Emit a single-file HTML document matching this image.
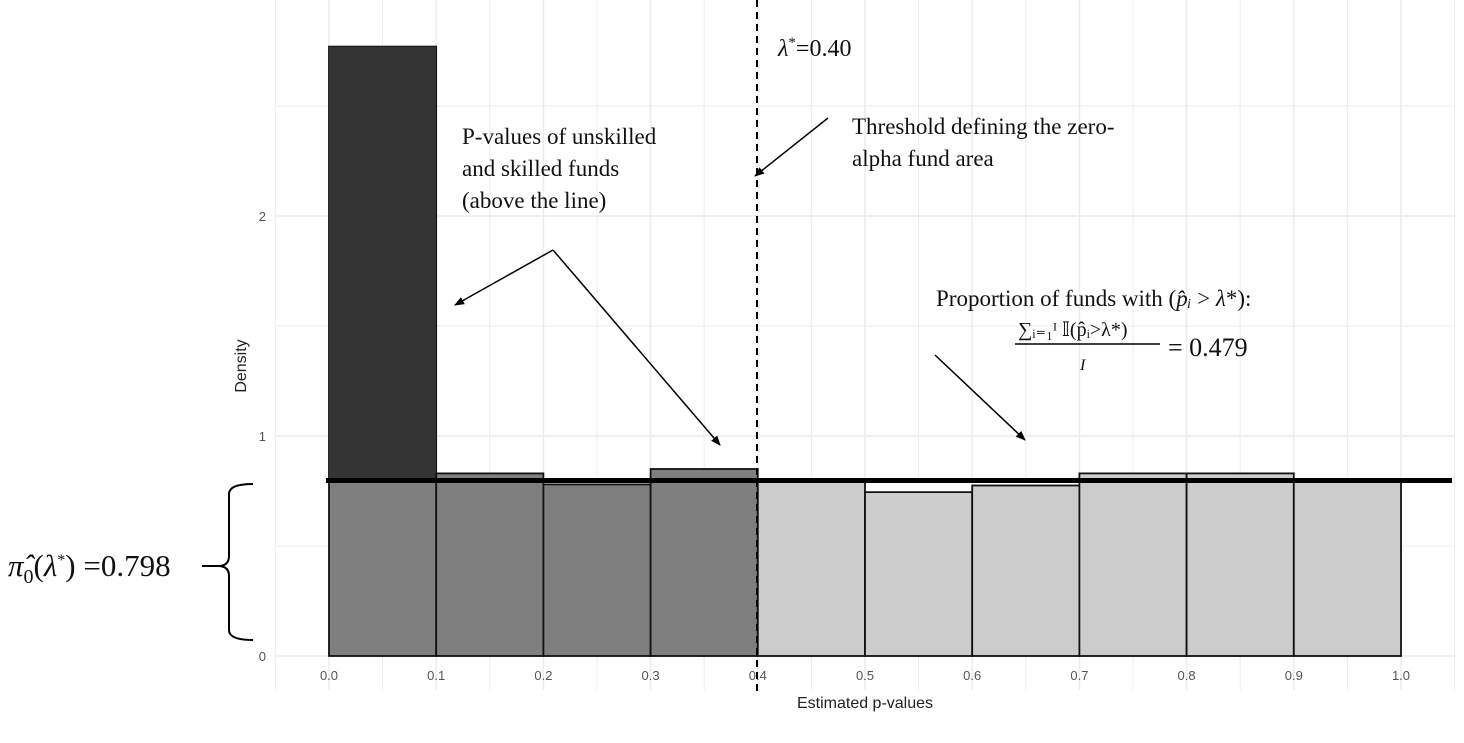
<!DOCTYPE html>
<html><head><meta charset="utf-8"><style>
body{margin:0;background:#fff;}
svg text{font-family:"Liberation Sans",sans-serif;}
.ser{font-family:"Liberation Serif",serif;fill:#111;}
</style></head><body>
<svg id="chart" width="1464" height="738" xmlns="http://www.w3.org/2000/svg">
<defs><marker id="ah" markerWidth="10" markerHeight="10" refX="9" refY="5" orient="auto" markerUnits="userSpaceOnUse"><path d="M0,1 L10,5 L0,9 Z" fill="#000"/></marker></defs>
<g id="grid"></g><g id="bars"></g><g id="axes"></g>
<g>
<line x1="757" y1="0" x2="757" y2="692" stroke="#000" stroke-width="2" stroke-dasharray="7,5"/>
<text class="ser" x="778" y="56" font-size="24"><tspan font-style="italic">λ</tspan><tspan font-size="15" dy="-9">*</tspan><tspan dy="9">=0.40</tspan></text>
<text class="ser" x="462" y="144" font-size="23">P-values of unskilled</text>
<text class="ser" x="462" y="176" font-size="23">and skilled funds</text>
<text class="ser" x="462" y="208" font-size="23">(above the line)</text>
<text class="ser" x="852" y="134" font-size="23">Threshold defining the zero-</text>
<text class="ser" x="852" y="166" font-size="23">alpha fund area</text>
<text class="ser" x="936" y="306" font-size="23">Proportion of funds with (<tspan font-style="italic">p̂ᵢ</tspan> &gt; <tspan font-style="italic">λ</tspan>*):</text>
<text class="ser" x="1018" y="336" font-size="20">∑ᵢ₌₁ᴵ 𝕀(p̂ᵢ&gt;λ*)</text>
<line x1="1015" y1="344" x2="1160" y2="344" stroke="#000" stroke-width="1.5"/>
<text class="ser" x="1080" y="370" font-size="16" font-style="italic">I</text>
<text class="ser" x="1168" y="356" font-size="26">= 0.479</text>
<text class="ser" x="8" y="576" font-size="31"><tspan font-style="italic">π&#770;</tspan><tspan font-size="20" dy="7">0</tspan><tspan dy="-7">(</tspan><tspan font-style="italic">λ</tspan><tspan font-size="16" dy="-11">*</tspan><tspan dy="11">) =0.798</tspan></text>
<path d="M253,484 Q229,484 229,494 L229,556 Q229,566 218,566 Q229,566 229,576 L229,630 Q229,640 253,640 M202,566 L218,566" fill="none" stroke="#000" stroke-width="2"/>
<line x1="553" y1="250" x2="455" y2="305" stroke="#000" stroke-width="1.5" marker-end="url(#ah)"/>
<line x1="553" y1="250" x2="720" y2="445" stroke="#000" stroke-width="1.5" marker-end="url(#ah)"/>
<line x1="828" y1="118" x2="755" y2="176" stroke="#000" stroke-width="1.5" marker-end="url(#ah)"/>
<line x1="935" y1="355" x2="1025" y2="440" stroke="#000" stroke-width="1.5" marker-end="url(#ah)"/>
</g>
</svg>
<script>
const binStarts=[0,0.1,0.2,0.3,0.4,0.5,0.6,0.7,0.8,0.9];
const densities=[2.77,0.83,0.78,0.85,0.80,0.745,0.775,0.83,0.83,0.80];
const pi0=0.798;
const xTicks=[0,0.1,0.2,0.3,0.4,0.5,0.6,0.7,0.8,0.9,1.0];
const yTicks=[0,1,2];
const NS="http://www.w3.org/2000/svg";
const x=v=>329+v*1072, y=v=>656-v*220;
function mk(t,a,p){const e=document.createElementNS(NS,t);for(const k in a)e.setAttribute(k,a[k]);p.appendChild(e);return e;}
const g=document.getElementById('grid');
for(let v=-0.05;v<=1.051;v+=0.05){const l=mk('line',{x1:x(v),x2:x(v),y1:0,y2:690,stroke:'#ececec','stroke-width':Math.abs(v*10-Math.round(v*10))<0.01?1.5:1},g);

}
for(let v=0;v<=2.9;v+=0.5){const l=mk('line',{x1:275,x2:1455,y1:y(v),y2:y(v),stroke:'#ececec','stroke-width':v%1===0?1.5:1},g);

}
const b=document.getElementById('bars');
binStarts.forEach((s,i)=>{const d=densities[i];const left=s<0.4;
const r=mk('rect',{x:x(s),y:y(d),width:x(s+0.1)-x(s),height:y(0)-y(d),fill:left?'#7f7f7f':'#cccccc',stroke:'#111','stroke-width':1.8},b);


if(d>pi0&&i===0){const o=mk('rect',{x:x(s),y:y(d),width:x(s+0.1)-x(s),height:y(pi0)-y(d),fill:'#333'},b);

}
if(d<pi0){const w=mk('rect',{x:x(s)+1,y:y(pi0),width:x(s+0.1)-x(s)-2,height:y(d)-y(pi0)-1,fill:'#fff'},b);

}
});
const hl=mk('line',{x1:x(-0.001)-2,x2:1452,y1:y(pi0),y2:y(pi0),stroke:'#000','stroke-width':5},b);


const a=document.getElementById('axes');
xTicks.forEach(v=>{const t=mk('text',{x:x(v),y:680,'font-size':13,fill:'#555','text-anchor':'middle'},a);t.textContent=v.toFixed(1);

});
yTicks.forEach(v=>{const t=mk('text',{x:266,y:y(v)+5,'font-size':13,fill:'#555','text-anchor':'end'},a);t.textContent=v;

});
const xt=mk('text',{x:x(0.5),y:708,'font-size':16,fill:'#222','text-anchor':'middle'},a);xt.textContent='Estimated p-values';


const yt=mk('text',{x:0,y:0,'font-size':16,fill:'#222','text-anchor':'middle',transform:'translate(246,366) rotate(-90)'},a);yt.textContent='Density';


</script>
</body></html>
